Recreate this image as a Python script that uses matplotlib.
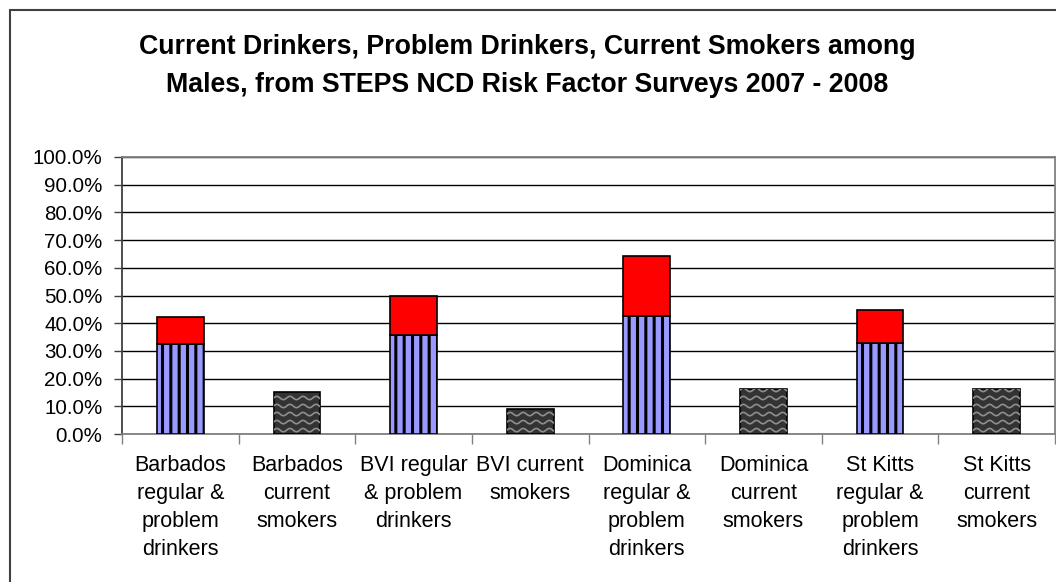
import numpy as np
import matplotlib
matplotlib.use("Agg")
import matplotlib.pyplot as plt
from matplotlib.patches import Rectangle
from matplotlib.ticker import FixedLocator, PercentFormatter

plt.rcParams['font.family'] = ['Liberation Sans', 'DejaVu Sans']
plt.rcParams['hatch.linewidth'] = 2.2

# STEPS survey results, males (%)
countries = ["Barbados", "BVI", "Dominica", "St Kitts"]
regular_drinkers = [32.6, 35.7, 42.5, 32.7]
problem_drinkers = [9.5, 14.1, 21.7, 12.1]
current_smokers = [15.0, 8.9, 16.3, 16.4]

labels = [
    "Barbados\nregular &\nproblem\ndrinkers", "Barbados\ncurrent\nsmokers",
    "BVI regular\n& problem\ndrinkers", "BVI current\nsmokers",
    "Dominica\nregular &\nproblem\ndrinkers", "Dominica\ncurrent\nsmokers",
    "St Kitts\nregular &\nproblem\ndrinkers", "St Kitts\ncurrent\nsmokers",
]

fig = plt.figure(figsize=(10.56, 5.82), dpi=100)
ax = fig.add_axes([122 / 1056, 1 - 434 / 582, (1055 - 122) / 1056, (434 - 157) / 582])

# outer chart frame
fig.patches.append(Rectangle((10 / 1056, -0.5), 2.0, 1.5 - 10 / 582,
                             transform=fig.transFigure, fill=False,
                             edgecolor='#404040', linewidth=1.5))

x_drink = np.arange(len(countries)) * 2
x_smoke = x_drink + 1
width = 0.40

ax.bar(x_drink, regular_drinkers, width, color='#9999FF', edgecolor='black',
       hatch='||', linewidth=1.2, zorder=3)
ax.bar(x_drink, problem_drinkers, width, bottom=regular_drinkers, color='#FF0000',
       edgecolor='black', linewidth=1.2, zorder=3)
smoke_bars = ax.bar(x_smoke, current_smokers, width, color='#333333',
                    edgecolor='black', linewidth=1.2, zorder=3)

# wavy fill pattern on the smoker bars
for bar in smoke_bars:
    x0, x1 = bar.get_x(), bar.get_x() + bar.get_width()
    xs = np.linspace(x0, x1, 80)
    for yb in np.arange(1.4, bar.get_height(), 2.9):
        ys = yb + 0.6 * np.sin((xs - x0) / 0.112 * 2 * np.pi)
        ln, = ax.plot(xs, ys, color='#8f8f8f', linewidth=1.2, zorder=4)
        ln.set_clip_path(bar)

ax.set_xlim(-0.5, 7.5)
ax.set_ylim(0, 100)
ax.yaxis.set_major_locator(FixedLocator(np.arange(0, 101, 10)))
ax.yaxis.set_major_formatter(PercentFormatter(decimals=1))
ax.yaxis.grid(True, color='black', linewidth=1.0, zorder=0)
ax.set_axisbelow(True)

ax.set_xticks(np.arange(-0.5, 8, 1))
ax.set_xticklabels([])
ax.set_xticks(np.arange(8), minor=True)
ax.set_xticklabels(labels, minor=True, fontsize=15.5, linespacing=1.44, va='top')
ax.tick_params(axis='x', which='minor', length=0, pad=15)
ax.tick_params(axis='x', which='major', length=7, width=1, color='#808080', direction='out')
ax.tick_params(axis='y', length=6, width=1, color='#404040', labelsize=14.8, pad=8)

for side in ['top', 'right', 'bottom']:
    ax.spines[side].set_color('#808080')
    ax.spines[side].set_linewidth(1.3)
ax.spines['left'].set_color('#404040')
ax.spines['left'].set_linewidth(1.3)

fig.text(527 / 1056, 1 - 66 / 582,
         "Current Drinkers, Problem Drinkers, Current Smokers among\n"
         "Males, from STEPS NCD Risk Factor Surveys 2007 - 2008",
         ha='center', va='center', fontsize=19.3, fontweight='bold', linespacing=1.62)

fig.savefig("out.png", dpi=100)
